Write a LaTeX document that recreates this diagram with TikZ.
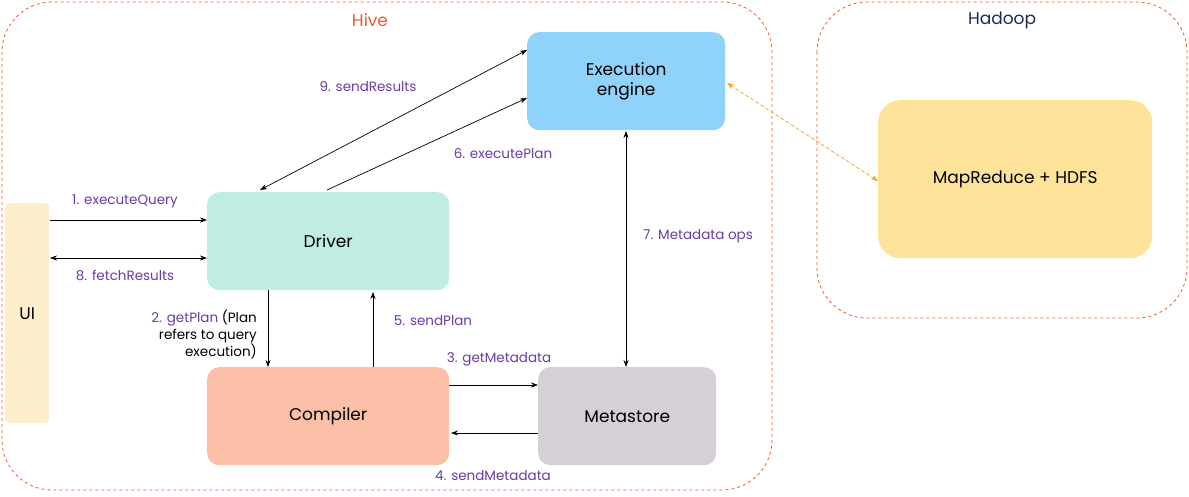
\documentclass[tikz,border=0pt]{standalone}
\usepackage{fontspec}
\setmainfont{Poppins}
\usetikzlibrary{arrows.meta}
\definecolor{lab}{HTML}{6A3AA8}
\definecolor{frame}{HTML}{F05A28}
\definecolor{navy}{HTML}{1F2A60}
\definecolor{cee}{HTML}{8FD3FB}
\definecolor{cdr}{RGB}{192,236,226}
\definecolor{cco}{RGB}{252,192,168}
\definecolor{cms}{RGB}{213,208,213}
\definecolor{cui}{RGB}{253,239,204}
\definecolor{cmr}{RGB}{253,226,154}
\definecolor{corg}{RGB}{240,160,32}
\tikzset{x=1pt,y=-1pt,
 box/.style={draw=none,rounded corners=12pt,anchor=north west,inner sep=0pt,font=\fontsize{17}{20}\selectfont},
 frm/.style={draw=frame,dashed,rounded corners=50pt,line width=0.8pt},
 lbl/.style={text=lab,font=\fontsize{13.5}{17}\selectfont,inner sep=1pt},
 ar/.style={-{Stealth[length=7pt,width=5pt]},line width=0.7pt},
 dar/.style={{Stealth[length=7pt,width=5pt]}-{Stealth[length=7pt,width=5pt]},line width=0.7pt}}
\begin{document}
\begin{tikzpicture}
\useasboundingbox (0,0) rectangle (1189,496);
\draw[frm] (2,2) rectangle (772,490);
\draw[frm] (817,2) rectangle (1187,318);
\node[text=frame,font=\fontsize{17}{20}\selectfont] (hive) at (370,20) {Hive};
\node[text=navy,font=\fontsize{17}{20}\selectfont] (hadoop) at (1002,20) {Hadoop};
\node[box,fill=cee,minimum width=198pt,minimum height=98pt,align=center] (ee) at (527,32) {Execution\\engine};
\node[box,fill=cdr,minimum width=242pt,minimum height=98pt] (dr) at (207,192) {Driver};
\node[box,fill=cco,minimum width=242pt,minimum height=98pt] (co) at (207,367) {Compiler};
\node[box,fill=cms,minimum width=178pt,minimum height=98pt] (ms) at (538,367) {Metastore};
\node[box,rounded corners=4pt,fill=cui,minimum width=44pt,minimum height=220pt] (ui) at (5,203) {UI};
\node[box,fill=cmr,minimum width=274pt,minimum height=158pt,rounded corners=22pt] (mr) at (878,100) {MapReduce + HDFS};
\coordinate (u1) at (50,220); \coordinate (u8) at (50,258);
\draw[ar] (u1) -- (u1 -| dr.west);
\draw[dar] (u8) -- (u8 -| dr.west);
\draw[dar] (260,190) -- (527,50);
\draw[ar] (327,190) -- (527,98);
\draw[dar] (626,131) -- (626,367);
\draw[ar] (268,290) -- (268,367);
\draw[ar] (373,367) -- (373,292);
\draw[ar] (449,385) -- (538,385);
\draw[ar] (538,433) -- (451,433);
\draw[dar,draw=corg,fill=corg,dashed] (727,83) -- (878,181);
\node[lbl] (l1) at (125,201) {1. executeQuery};
\node[lbl] (l8) at (125,275) {8. fetchResults};
\node[lbl] (l9) at (368,87) {9. sendResults};
\node[lbl] (l6) at (503,154) {6. executePlan};
\node[lbl] (l7) at (698,236) {7. Metadata ops};
\node[lbl,align=right,anchor=east] (l2) at (258,334) {2. getPlan \textcolor{black}{(Plan}\\\textcolor{black}{refers to query}\\\textcolor{black}{execution)}};
\node[lbl] (l5) at (433,321) {5. sendPlan};
\node[lbl] (l3) at (499,359) {3. getMetadata};
\node[lbl] (l4) at (493,476) {4. sendMetadata};
\end{tikzpicture}
\end{document}
